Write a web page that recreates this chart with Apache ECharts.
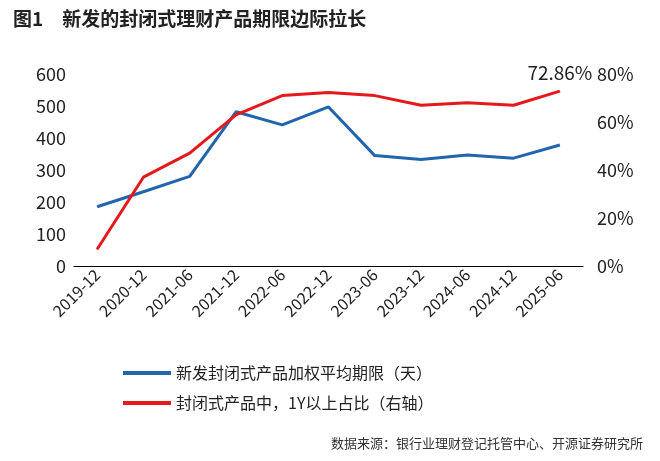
<!DOCTYPE html>
<html><head><meta charset="utf-8">
<script src="https://cdn.jsdelivr.net/npm/echarts@6/dist/echarts.min.js"></script>
<style>body{margin:0;background:#fff}#c{width:660px;height:461px}</style>
</head><body><div id="c"></div>
<script>
var categories = ['2019-12','2020-12','2021-06','2021-12','2022-06','2022-12','2023-06','2023-12','2024-06','2024-12','2025-06'];
var termDays = [185, 232, 280, 482, 441, 497, 345, 333, 347, 337, 378];
var over1YPct = [7, 37, 47, 63, 71, 72.3, 71, 67, 68, 67, 72.86];
var leftTicks = [0, 600, 100];
var rightTicks = [0, 80, 20];

(function(){
	var myChart = echarts.init(document.getElementById('c'));
	var font = '"Noto Sans CJK SC", sans-serif';
	var last = over1YPct.length - 1;
	option = {
    textStyle: {fontFamily: font},
    title: [{
        text: '图1　新发的封闭式理财产品期限边际拉长',
        left: 8, top: 4,
        textStyle: {fontSize: 19, fontWeight: 'bold', color: '#222', fontFamily: font}
    }, {
        text: '数据来源：银行业理财登记托管中心、开源证券研究所',
        right: 12, bottom: 6,
        textStyle: {fontSize: 13, fontWeight: 'normal', color: '#333', fontFamily: font}
    }],
    legend: {
        orient: 'vertical',
        left: 118, top: 360,
        itemGap: 14,
        itemWidth: 48,
        icon: 'rect', itemHeight: 4,
        textStyle: {fontSize: 16, color: '#222', fontFamily: font},
        data: ['新发封闭式产品加权平均期限（天）', '封闭式产品中，1Y以上占比（右轴）']
    },
    grid: {left: 74, right: 77, top: 74, bottom: 195},
    xAxis: {
        type: 'category',
        data: categories,
        axisLine: {lineStyle: {color: '#000'}},
        axisTick: {show: false},
        axisLabel: {rotate: 45, fontSize: 16, color: '#222', margin: 6, interval: 0}
    },
    yAxis: [{
        type: 'value', min: leftTicks[0], max: leftTicks[1], interval: leftTicks[2],
        splitLine: {show: false},
        axisLine: {show: false}, axisTick: {show: false},
        axisLabel: {fontSize: 18, color: '#222', margin: 8}
    }, {
        type: 'value', min: rightTicks[0], max: rightTicks[1], interval: rightTicks[2],
        splitLine: {show: false},
        axisLine: {show: false}, axisTick: {show: false},
        axisLabel: {fontSize: 18, color: '#222', margin: 14, formatter: '{value}%'}
    }],
    series: [{
        name: '新发封闭式产品加权平均期限（天）',
        type: 'line', yAxisIndex: 0,
        data: termDays,
        symbol: 'none',
        lineStyle: {width: 3, color: '#2166ac'},
        itemStyle: {color: '#2166ac'}
    }, {
        name: '封闭式产品中，1Y以上占比（右轴）',
        type: 'line', yAxisIndex: 1,
        data: over1YPct,
        symbol: 'circle', symbolSize: 1, showSymbol: true,
        label: {
            show: true, position: 'top', distance: 8, fontSize: 19, color: '#222',
            formatter: function(p){ return p.dataIndex === last ? p.value + '%' : ''; }
        },
        lineStyle: {width: 3, color: '#e3191c'},
        itemStyle: {color: '#e3191c'}
    }]
};
	myChart.setOption(option);
})();
</script></body></html>
